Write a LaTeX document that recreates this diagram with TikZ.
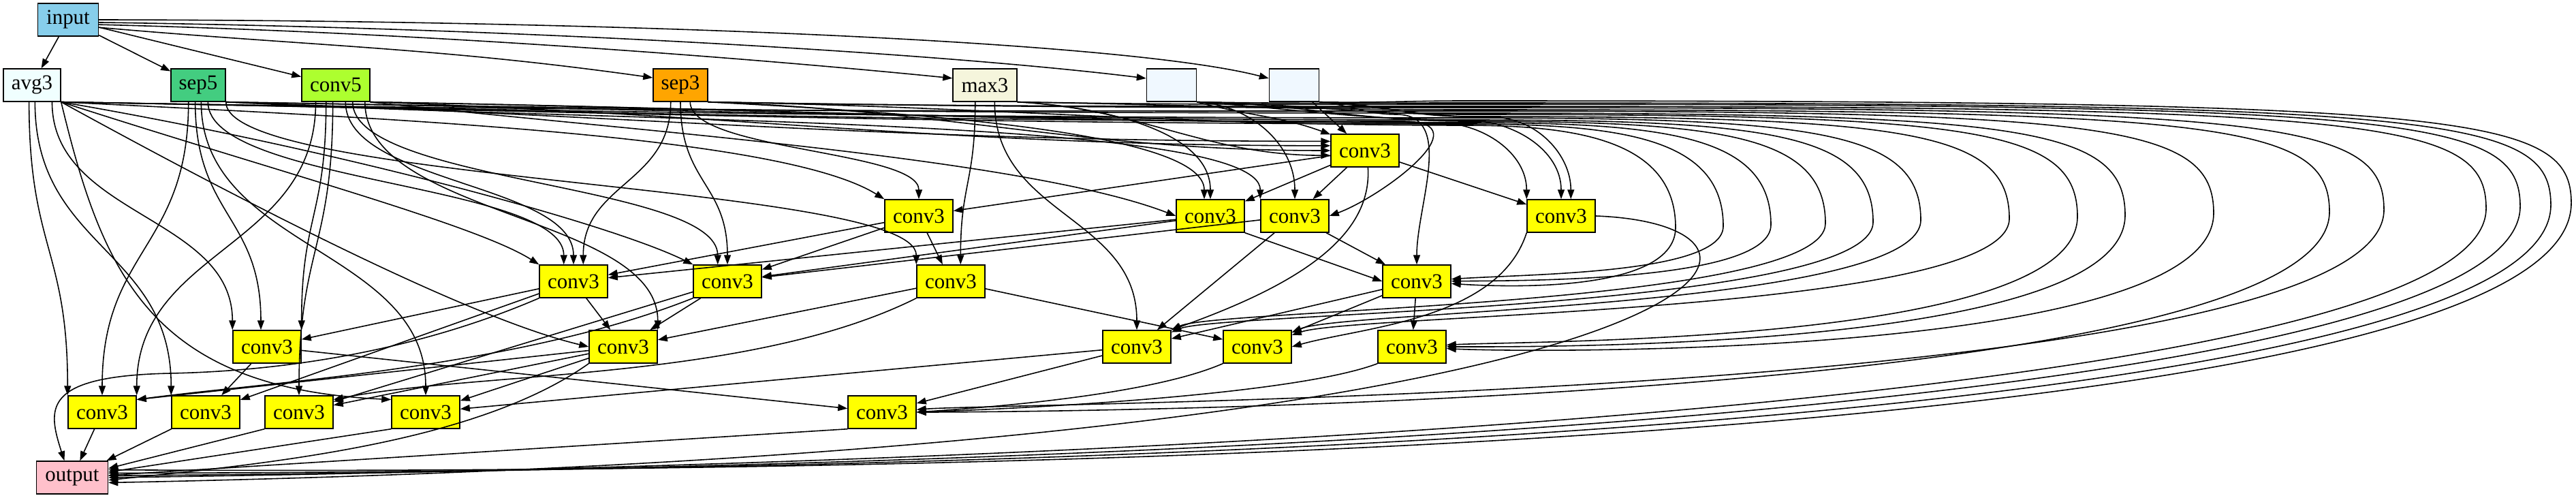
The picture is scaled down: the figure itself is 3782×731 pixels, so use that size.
\documentclass[tikz,border=0pt]{standalone}
\usepackage{fontspec}
\setmainfont{Liberation Serif}
\usetikzlibrary{arrows.meta,calc}
\definecolor{cin}{HTML}{87CEEB}
\definecolor{cavg}{HTML}{F0FFFF}
\definecolor{csepf}{HTML}{43CD80}
\definecolor{cconvf}{HTML}{ADFF2F}
\definecolor{csept}{HTML}{FFA500}
\definecolor{cmax}{HTML}{F5F5DC}
\definecolor{cblank}{HTML}{F0F8FF}
\definecolor{cconvt}{HTML}{FFFF00}
\definecolor{cout}{HTML}{FFC0CB}
\newcommand{\myloop}[7]{\draw[edg] (#1) to[out=-1,in=180] (2150,#2) .. controls ({#3-150},#2) and (#3,{#2+20}) .. (#3,{#2+150}) .. controls (#3,#4) and (#5,#6) .. (#7);}
\begin{document}
\begin{tikzpicture}[x=0.01cm,y=-0.01cm,
 op/.style={draw=black, line width=0.4pt, minimum height=0.48cm, inner sep=0pt, font=\fontsize{8.8}{10}\selectfont},
 cth/.style={op, fill=cconvt, minimum width=1cm},
 edg/.style={draw=black, line width=0.45pt, -{Triangle[length=0.14cm,width=0.1cm]}},
 gv/.style={to path={let \p1=(\tikztostart), \p2=(\tikztotarget) in .. controls (\x1,{0.5*\y1+0.5*\y2}) and (\x2,{0.5*\y1+0.5*\y2}) .. (\tikztotarget) \tikztonodes}},
 dropin/.style={out=-3,in=90,in distance=#1},
 dropin/.default=1cm]
\useasboundingbox (0,0) rectangle (3782,731);
% nodes
\node[op, fill=cin, minimum width=0.89cm] (in) at (100,29) {input};
\node[op, fill=cavg, minimum width=0.84cm] (avg) at (47,125) {avg3};
\node[op, fill=csepf, minimum width=0.80cm] (s5) at (291,125) {sep5};
\node[op, fill=cconvf, minimum width=1.00cm] (c5) at (493,125) {conv5};
\node[op, fill=csept, minimum width=0.80cm] (s3) at (999,125) {sep3};
\node[op, fill=cmax, minimum width=0.94cm] (mx) at (1446,125) {max3};
\node[op, fill=cblank, minimum width=0.73cm] (b1) at (1720,125) {};
\node[op, fill=cblank, minimum width=0.73cm] (b2) at (1900,125) {};
\node[cth] (a) at (2004,221) {conv3};
\node[cth] (b) at (1349,317) {conv3};
\node[cth] (c) at (1777,317) {conv3};
\node[cth] (d) at (1901,317) {conv3};
\node[cth] (e) at (2292,317) {conv3};
\node[cth] (f) at (842,413) {conv3};
\node[cth] (g) at (1068,413) {conv3};
\node[cth] (h) at (1396,413) {conv3};
\node[cth] (i) at (2080,413) {conv3};
\node[cth] (j) at (392,509) {conv3};
\node[cth] (k) at (915,509) {conv3};
\node[cth] (l) at (1669,509) {conv3};
\node[cth] (m) at (1846,509) {conv3};
\node[cth] (n) at (2073,509) {conv3};
\node[cth] (o) at (150,605) {conv3};
\node[cth] (p) at (302,605) {conv3};
\node[cth] (q) at (439,605) {conv3};
\node[cth] (r) at (625,605) {conv3};
\node[cth] (s) at (1295,605) {conv3};
\node[op, fill=cout, minimum width=1.05cm] (out) at (106,701) {output};
% input
\draw[edg] (in) -- (avg);
\draw[edg] (in) -- (s5);
\draw[edg] (in) -- (c5);
\draw[edg] (in.-14) to[out=-5,in=172] (s3.165);
\draw[edg] (in.-9) .. controls (700,50) and (1200,95) .. (mx.168);
\draw[edg] (in.-5) .. controls (800,42) and (1400,80) .. (b1.165);
\draw[edg] (in.0) .. controls (900,30) and (1650,60) .. (b2.165);
% a
\draw[edg] (s5.south east) to[out=-2,in=180] (a.165);
\draw[edg] (c5.south east) to[out=-2,in=180] (a.172);
\draw[edg] (s3.south east) to[out=-2,in=180] (a.180);
\draw[edg] (mx.south east) to[out=-3,in=180] (a.188);
\draw[edg] (b1.south east) to[out=-15,in=160] (a.155);
\draw[edg] (b2) -- (a);
\draw[edg] (a) -- (b);
\draw[edg] (a) -- (c);
\draw[edg] (a) -- (d);
\draw[edg] (a) -- (e);
\draw[edg] (a.-80) .. controls (2015,350) and (1900,420) .. (l.north east);
% b
\draw[edg] (avg.south east) .. controls (600,175) and (1150,200) .. (b.north west);
\draw[edg] (s3.-60) to[gv] (b.north);
% c
\draw[edg] (c5.south east) .. controls (900,190) and (1500,230) .. (c.west);
\draw[edg] (s3.south east) to[dropin] (c.110);
\draw[edg] (mx.south east) to[dropin] (c.north);
% d
\draw[edg] (s5.south east) to[dropin=1.2cm] (d.north west);
\draw[edg] (b1.south east) to[dropin=0.8cm] (d.north);
\draw[edg] (avg.south east) to[out=-1,in=180] (2060,178) to[out=0,in=20,out distance=1.2cm,in distance=0.8cm] (d.east);
% e
\draw[edg] (c5.south east) to[out=-1,in=180] (2110,180) to[out=0,in=90] (e.north west);
\draw[edg] (b1.south east) to[out=-4,in=180] (2150,176) to[out=0,in=90] (e.north);
\draw[edg] (b2.south east) to[out=-4,in=180] (2190,172) to[out=0,in=90] (e.60);
% f
\draw[edg] (avg.south east) .. controls (400,250) and (700,330) .. (f.north west);
\draw[edg] (s5.-60) to[gv] (f.120);
\draw[edg] (c5.-60) to[gv] (f.north);
\draw[edg] (s3.-120) to[gv] (f.60);
\draw[edg] (b) -- (f);
\draw[edg] (c) -- (f);
% g
\draw[edg] (avg.south east) .. controls (500,220) and (900,330) .. (g.north west);
\draw[edg] (c5.-45) to[gv] (g.120);
\draw[edg] (s3.-90) to[gv] (g.north);
\draw[edg] (b) -- (g);
\draw[edg] (c) -- (g);
\draw[edg] (d) -- (g);
% h
\draw[edg] (s5.south east) to[gv] (h.north west);
\draw[edg] (mx.-120) to[gv] (h.60);
\draw[edg] (b) -- (h);
% i
\draw[edg] (c.south east) -- (i.west);
\draw[edg] (d) -- (i);
\draw[edg] (b2.south east) to[out=-5,in=180] (2050,168) to[out=0,in=90] (i.north);
% j
\draw[edg] (s5.-100) to[gv] (j.110);
\draw[edg] (avg.-40) to[gv] (j.north west);
\draw[edg] (c5.-120) to[gv] (j.north east);
\draw[edg] (f) -- (j);
% k
\draw[edg] (avg.south east) .. controls (400,320) and (700,470) .. (k.west);
\draw[edg] (c5.-30) to[gv] (k.north east);
\draw[edg] (f) -- (k);
\draw[edg] (g) -- (k);
\draw[edg] (h) -- (k);
% l
\draw[edg] (mx.-60) to[gv] (l.north);
\draw[edg] (d) -- (l);
\draw[edg] (i) -- (l);
% m
\draw[edg] (h) -- (m);
\draw[edg] (e.south west) .. controls (2200,470) and (2000,480) .. (m.east);
\draw[edg] (i) -- (m);
% n
\draw[edg] (i) -- (n);
% o
\draw[edg] (avg.-100) to[gv] (o.north west);
\draw[edg] (s5.-120) to[gv] (o.north);
\draw[edg] (c5.-140) to[gv] (o.north east);
\draw[edg] (k) -- (o.20);
\draw[edg] (g.south west) .. controls (760,540) and (400,560) .. (o.20);
% p
\draw[edg] (avg.-80) to[gv] (p.north west);
\draw[edg] (j) -- (p);
\draw[edg] (f) -- (p);
% q
\draw[edg] (c5.-100) to[gv] (q.north);
\draw[edg] (g) -- (q);
\draw[edg] (k) -- (q);
\draw[edg] (h.south west) .. controls (1100,560) and (700,545) .. (q.20);
% r
\draw[edg] (avg.south east) .. controls (150,400) and (220,570) .. (r.160);
\draw[edg] (s5.-80) to[gv] (r.north);
\draw[edg] (k) -- (r);
\draw[edg] (l) -- (r);
% s
\draw[edg] (j) -- (s);
\draw[edg] (l) -- (s);
\draw[edg] (m.south west) .. controls (1700,575) and (1500,595) .. (s.east);
\draw[edg] (n.south west) .. controls (1900,580) and (1500,600) .. (s.east);
% output
\draw[edg] (o) -- (out);
\draw[edg] (p) -- (out);
\draw[edg] (q.south west) -- (out);
\draw[edg] (r.south west) -- (out);
\draw[edg] (s.south west) -- (out);
\draw[edg] (f.south west) .. controls (600,520) and (400,545) .. (250,548) .. controls (60,552) and (70,600) .. (out.115);
\draw[edg] (k.south west) .. controls (700,650) and (400,680) .. (out.-4);
\draw[edg] (e.east) .. controls (2700,330) and (2600,660) .. (out.-8);
% long loops on the right
\myloop{b2.south east}{148}{3775}{650}{1500}{697}{out.12}
\myloop{b1.south east}{151}{3745}{640}{1400}{693}{out.7}
\myloop{mx.south east}{153}{3700}{630}{1300}{690}{out.3}
\myloop{s3.south east}{156}{3650}{620}{1200}{687}{out.0}
\myloop{s3.south east}{158}{3500}{585}{1500}{590}{s}
\myloop{mx.south east}{161}{3420}{595}{1500}{605}{s}
\myloop{avg.south east}{163}{3250}{525}{2250}{518}{n}
\myloop{s5.south east}{166}{3120}{515}{2250}{509}{n}
\myloop{b1.south east}{168}{3050}{505}{2250}{500}{n}
\myloop{b2.south east}{171}{2950}{460}{1990}{460}{m}
\myloop{avg.south east}{173}{2820}{452}{1975}{455}{m}
\myloop{s5.south east}{176}{2750}{455}{1790}{458}{l}
\myloop{b1.south east}{178}{2680}{450}{1785}{453}{l}
\myloop{c5.south east}{180}{2600}{412}{2250}{412}{i}
\myloop{avg.south east}{182}{2530}{402}{2250}{402}{i}
\myloop{s3.south east}{184}{2460}{422}{2250}{424}{i}
\end{tikzpicture}
\end{document}
